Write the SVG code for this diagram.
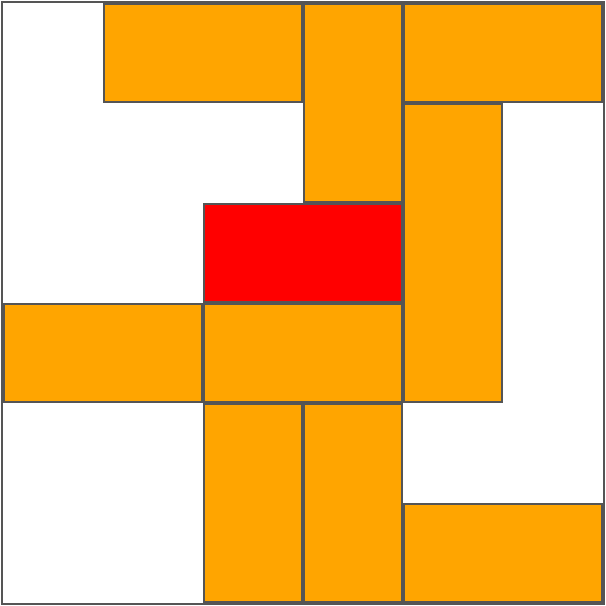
<svg xmlns="http://www.w3.org/2000/svg" width="606" height="606" viewBox="0 0 606 606">
<style>
.board{fill:#ffffff;stroke:#555555;stroke-width:2}
.car{fill:#FFA500;stroke:#555555;stroke-width:2}
.target{fill:#FF0000;stroke:#555555;stroke-width:2}
</style>
<rect class="board" x="2" y="2" width="602" height="602"/>
<g id="car1"><rect class="car" x="104" y="4" width="198" height="98"/></g>
<g id="car2"><rect class="car" x="304" y="4" width="98" height="198"/></g>
<g id="car3"><rect class="car" x="404" y="4" width="198" height="98"/></g>
<g id="car4"><rect class="car" x="404" y="104" width="98" height="298"/></g>
<g id="target"><rect class="target" x="204" y="204" width="198" height="98"/></g>
<g id="car5"><rect class="car" x="4" y="304" width="198" height="98"/></g>
<g id="car6"><rect class="car" x="204" y="304" width="198" height="98"/></g>
<g id="car7"><rect class="car" x="204" y="404" width="98" height="198"/></g>
<g id="car8"><rect class="car" x="304" y="404" width="98" height="198"/></g>
<g id="car9"><rect class="car" x="404" y="504" width="198" height="98"/></g>
<g id="connectors"></g>
</svg>
